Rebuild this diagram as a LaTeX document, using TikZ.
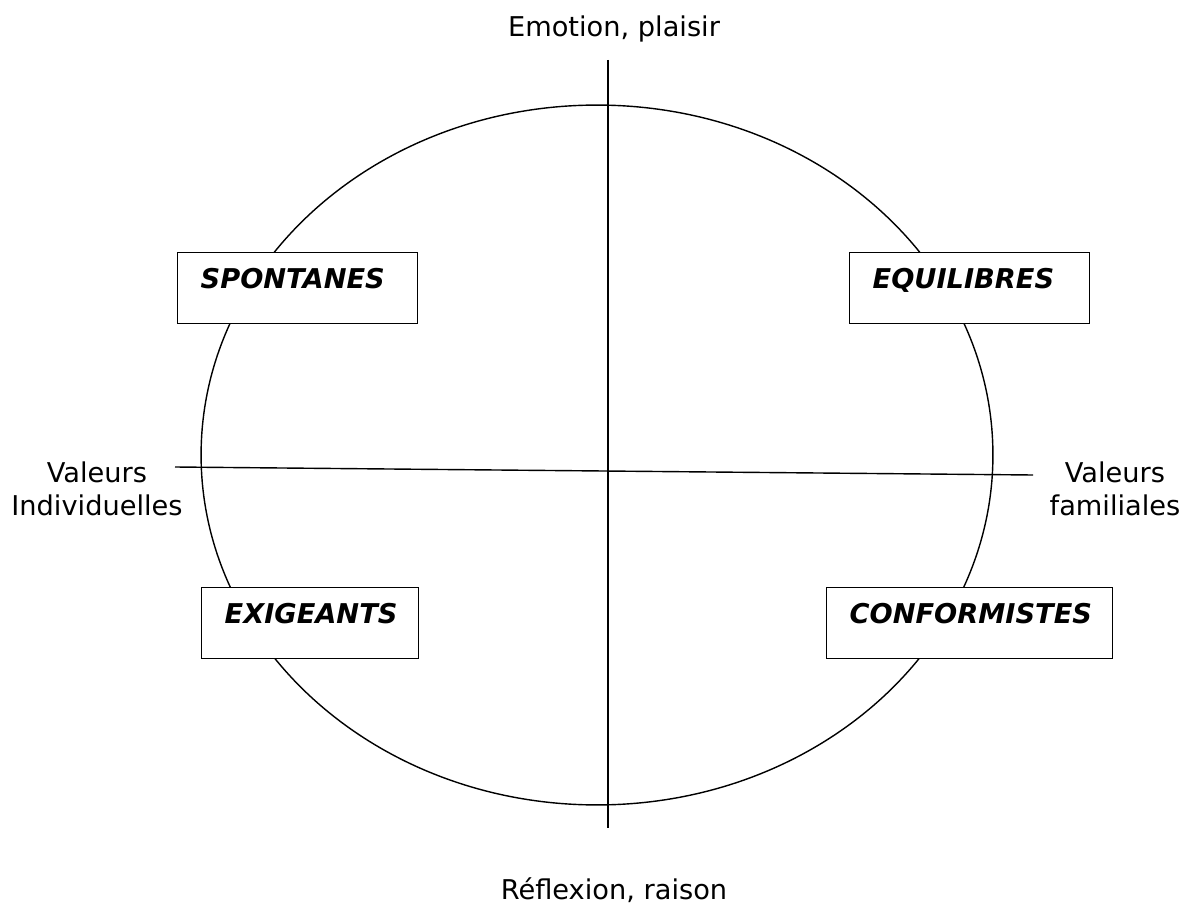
\documentclass[tikz,border=0pt]{standalone}
\usepackage{fontspec}
\setmainfont{DejaVu Sans}
\usetikzlibrary{shapes.geometric}
\begin{document}
\begin{tikzpicture}[x=0.02cm,y=-0.02cm,
  line width=0.8pt,
  lbl/.style={font=\fontsize{15.5}{18.5}\selectfont, align=center, inner sep=0pt},
  box/.style={draw, fill=white, anchor=north west, inner xsep=0.46cm, inner ysep=0pt,
    align=left, text height=0.72cm, text depth=0.70cm,
    font=\fontsize{15.5}{18.5}\selectfont\bfseries\itshape}]
\useasboundingbox (0,0) rectangle (1189,905);
% ellipse
\node[draw, ellipse, minimum width=15.84cm, minimum height=14cm, inner sep=0pt] (ell) at (597,455) {};
% axes
\coordinate (top) at (608,60);
\coordinate (bot) at (608,828);
\coordinate (lft) at (175,467);
\coordinate (rgt) at (1033,475);
\draw (top) -- (bot);
\draw (lft) -- (rgt);
% boxes
\node[box, text width=3.88cm] (spont) at (177,252) {SPONTANES};
\node[box, text width=3.88cm] (equil) at (849,252) {EQUILIBRES};
\node[box, text width=3.42cm] (exig) at (201,587) {EXIGEANTS};
\node[box, text width=4.80cm] (conf) at (826,587) {CONFORMISTES};
% labels
\node[lbl, anchor=base] (emo) at (614,37) {Emotion, plaisir};
\node[lbl, anchor=base] (refl) at (614,899) {Réflexion, raison};
\node[lbl, anchor=base] (vi) at (97,515) {Valeurs\\Individuelles};
\node[lbl, anchor=base] (vf) at (1115,515) {Valeurs\\familiales};
\end{tikzpicture}
\end{document}
